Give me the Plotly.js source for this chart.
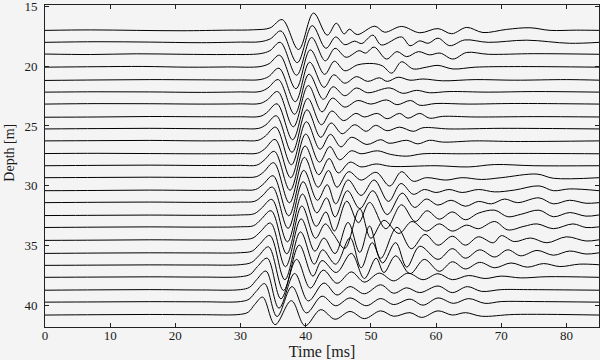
<!DOCTYPE html>
<html><head><meta charset="utf-8">
<script src="https://cdn.plot.ly/plotly-3.0.1.min.js"></script>
<style>html,body{margin:0;padding:0;background:#f4f4f4}#chart{width:600px;height:360px}</style>
</head><body><div id="chart"></div>
<script>
// depth of each trace's zero line (m)
const depths = [17.0,18.0,19.0,20.08,21.17,22.17,23.17,24.25,25.25,26.25,27.33,28.33,29.33,30.42,31.42,32.5,33.5,34.58,35.67,36.67,37.67,38.75,39.75,40.83];
const xTicks = [0,10,20,30,40,50,60,70,80];
const yTicks = [15,20,25,30,35,40];

// each trace: [time ms, amplitude m (positive = up)]
const tr01 = [[0,0.0],[7,0.04],[14,0.0],[21,-0.03],[28,0.02],[32,0.05],[34.5,0.2],[36.4,0.9],[38.9,-1.6],[41.2,1.45],[43.3,-0.4],[44.7,0.6],[45.9,-0.3],[46.7,0.1],[47.9,-0.35],[50.6,0.35],[52.1,-0.15],[54.7,0.33],[57.5,-0.2],[60.3,0.15],[62.4,-0.28],[64.7,0.25],[67.2,-0.18],[70.8,0.08],[74.4,0.22],[77.5,0.0],[81.5,0.02],[85,0.0]];
const tr02 = [[0,0.0],[8,0.05],[16,0.02],[24,-0.03],[30,0.02],[33,0.05],[34.6,0.3],[36.2,0.95],[38.7,-1.7],[41.0,1.4],[43.1,-0.5],[44.6,0.45],[46.0,-0.2],[47.5,0.1],[48.6,-0.1],[50.3,0.6],[51.6,-0.22],[54.7,0.45],[56.0,-0.28],[57.5,0.12],[58.8,-0.08],[60.3,0.35],[62.1,-0.28],[64.4,0.2],[68,0.0],[73.9,0.18],[80.5,-0.08],[85,0.0]];
const tr03 = [[0,0.02],[7,-0.02],[14,0.04],[21,0.0],[28,-0.02],[33,0.05],[34.5,0.3],[36.1,1.0],[38.6,-1.75],[40.9,1.4],[43.0,-0.55],[44.5,0.5],[46.2,-0.25],[48.2,0.3],[49.2,0.1],[50.5,0.6],[52.4,-0.4],[54.0,0.22],[55.5,-0.2],[57.3,0.22],[59.0,-0.05],[60.6,0.1],[62.6,-0.4],[64.7,0.15],[68,0.0],[75,0.05],[85,0.0]];
const tr04 = [[0,0.0],[8,0.04],[15,0.06],[22,0.0],[28,0.02],[33,0.05],[34.4,0.3],[36.0,1.0],[38.5,-1.8],[40.7,1.45],[42.9,-0.6],[44.4,0.5],[46.0,-0.3],[48.0,0.2],[50.4,0.3],[51.8,0.1],[53.2,-0.5],[54.7,0.45],[56.5,-0.15],[58.5,0.0],[60.3,0.15],[62.6,-0.15],[66,0.0],[72,0.05],[85,0.0]];
const tr05 = [[0,-0.02],[8,0.02],[16,0.05],[24,0.03],[30,0.02],[33,0.05],[34.3,0.3],[35.9,1.0],[38.4,-1.8],[40.6,1.5],[42.8,-0.6],[44.3,0.45],[46.0,-0.25],[47.8,0.3],[49.5,-0.1],[51.3,0.2],[52.5,-0.1],[54.2,0.25],[56,0.0],[58,0.1],[61,-0.05],[66,0.05],[72,0.0],[80,0.05],[85,0.0]];
const tr06 = [[0,0.0],[8,0.03],[16,0.02],[24,-0.02],[30,0.02],[33,0.05],[34.2,0.35],[35.8,1.05],[38.3,-1.85],[40.5,1.5],[42.7,-0.6],[44.2,0.45],[46.0,-0.3],[47.8,0.35],[49.5,-0.05],[52.9,0.35],[54.9,-0.1],[57.0,0.15],[59,-0.05],[62,0.05],[68,0.0],[75,0.05],[85,0.0]];
const tr07 = [[0,0.0],[8,0.04],[16,0.03],[24,0.0],[30,0.02],[33,0.05],[34.1,0.35],[35.7,1.05],[38.1,-1.9],[40.4,1.55],[42.5,-0.65],[44.1,0.5],[46.0,-0.25],[48.0,0.3],[50,0.0],[52.4,0.35],[54.0,-0.05],[56.1,0.3],[57.5,-0.1],[60,0.05],[65,0.0],[72,0.05],[85,0.0]];
const tr08 = [[0,-0.02],[8,0.0],[16,0.04],[24,0.02],[30,0.02],[33,0.05],[34.0,0.35],[35.6,1.1],[38.0,-1.9],[40.3,1.55],[42.4,-0.65],[44.0,0.5],[45.8,-0.3],[47.7,0.3],[49.0,0.0],[51.0,0.3],[52.5,-0.15],[54.4,0.3],[55.7,-0.1],[57.5,0.3],[59.0,-0.1],[61,0.05],[66,0.0],[75,0.03],[85,0.0]];
const tr09 = [[0,0.0],[8,0.03],[16,0.05],[24,0.02],[30,0.02],[32.8,0.05],[33.9,0.35],[35.5,1.1],[37.9,-1.95],[40.2,1.6],[42.3,-0.7],[43.9,0.5],[45.6,-0.4],[47.5,0.35],[49.3,-0.2],[50.7,0.3],[52.5,-0.15],[54.4,0.15],[56.5,-0.2],[58.0,0.1],[62,0.0],[70,0.05],[85,0.0]];
const tr10 = [[0,0.0],[8,0.02],[16,0.04],[24,0.0],[30,0.02],[32.7,0.05],[33.8,0.4],[35.4,1.15],[37.8,-2.0],[40.1,1.6],[42.2,-0.7],[43.8,0.55],[45.4,-0.5],[47.0,0.3],[49.4,-0.3],[51.5,0.1],[52.8,-0.2],[55.5,0.05],[57.2,-0.25],[59,0.05],[61,-0.1],[66,0.0],[72,-0.05],[85,0.0]];
const tr11 = [[0,0.02],[8,0.04],[16,0.02],[24,0.0],[30,0.02],[32.6,0.05],[33.7,0.4],[35.3,1.2],[37.7,-2.0],[40.0,1.65],[42.1,-0.7],[43.7,0.6],[45.2,-0.5],[47.0,0.25],[48.5,0.0],[51.0,0.25],[53,-0.05],[55.5,-0.2],[58,0.0],[64,0.0],[72,0.03],[85,0.0]];
const tr12 = [[0,0.0],[8,0.03],[16,0.05],[24,0.02],[30,0.03],[32.5,0.05],[33.6,0.45],[35.2,1.2],[37.6,-2.05],[39.9,1.65],[42.0,-0.75],[43.6,0.6],[45.0,-0.6],[46.8,0.3],[48.5,-0.1],[50.8,0.15],[53,-0.05],[60,0.0],[65,-0.1],[69,0.1],[75,0.0],[85,0.0]];
const tr13 = [[0,0.0],[8,0.02],[16,0.04],[24,0.02],[30,0.03],[32.4,0.08],[33.5,0.45],[35.1,1.25],[37.5,-2.1],[39.8,1.7],[41.9,-0.8],[43.5,0.6],[44.8,-0.8],[46.6,0.5],[48.5,-0.2],[50.8,0.45],[52.9,-0.7],[54.7,0.5],[56.5,-0.3],[58.5,0.0],[61.5,-0.2],[64,0.0],[67,-0.15],[70,0.0],[75.5,0.3],[78,-0.05],[85,0.0]];
const tr14 = [[0,0.0],[8,0.02],[16,0.05],[24,0.02],[30,0.05],[32.3,0.1],[33.4,0.5],[35.0,1.25],[37.4,-2.1],[39.7,1.7],[41.8,-0.8],[43.3,0.5],[44.6,-1.1],[46.5,0.9],[48.5,-0.4],[50.5,0.9],[52.7,-0.9],[54.6,0.6],[56.5,-0.3],[58.2,0.1],[60,-0.15],[62,0.1],[64,-0.15],[66.5,0.1],[69,-0.1],[72,0.05],[75.8,0.4],[78,0.0],[80.5,0.15],[85,0.0]];
const tr15 = [[0,0.0],[8,0.03],[16,0.05],[24,0.02],[30,0.05],[32.2,0.12],[33.3,0.55],[34.9,1.3],[37.3,-2.15],[39.6,1.75],[41.7,-0.85],[43.2,0.4],[44.5,-1.2],[46.4,1.0],[48.3,-0.5],[50.3,1.0],[52.5,-1.0],[54.8,0.8],[56.7,-0.4],[58.5,0.3],[60.3,-0.2],[62.3,0.2],[64.5,-0.3],[66.5,0.1],[68.5,-0.1],[70.5,0.3],[72.5,0.0],[75.8,0.4],[78,-0.1],[80.5,0.2],[83,-0.05],[85,0.0]];
const tr16 = [[0,0.0],[8,0.02],[16,0.04],[24,0.02],[30,0.05],[32.1,0.15],[33.2,0.6],[34.8,1.35],[37.2,-2.2],[39.5,1.8],[41.6,-0.9],[43.1,0.3],[44.4,-1.3],[46.3,1.2],[48.1,-0.6],[49.8,1.1],[52.3,-1.1],[54.7,0.9],[56.8,-0.5],[58.6,0.4],[60.5,-0.3],[62.5,0.3],[64.5,-0.35],[66.5,0.2],[69,0.45],[71,-0.1],[73,0.1],[75.8,0.45],[78,-0.1],[80.5,0.25],[83,-0.05],[85,0.05]];
const tr17 = [[0,0.0],[8,0.03],[16,0.05],[24,0.03],[30,0.06],[32.0,0.15],[33.1,0.65],[34.7,1.4],[37.1,-2.2],[39.4,1.8],[41.5,-0.9],[43.0,0.3],[44.3,-0.6],[46.0,-1.75],[48.3,1.55],[50.0,-0.9],[52.0,0.6],[54.3,-0.5],[56.3,0.5],[58.5,-0.3],[60.5,0.3],[62.5,-0.3],[64.7,0.2],[66.5,-0.1],[69,0.5],[71,-0.2],[73.5,0.1],[75.5,0.3],[78,-0.1],[81,0.3],[83,0.0],[85,0.05]];
const tr18 = [[0,0.0],[8,0.02],[16,0.05],[24,0.03],[30,0.06],[31.9,0.2],[33.0,0.7],[34.6,1.45],[36.9,-2.2],[39.3,1.8],[41.4,-0.9],[42.8,0.2],[44.5,-1.1],[46.5,1.5],[48.3,-1.0],[49.8,1.2],[51.5,-1.5],[54.0,1.1],[56.2,-0.7],[58.3,0.5],[60.3,-0.4],[62.5,0.35],[64.5,-0.4],[66.5,0.3],[68.8,-0.2],[70,0.4],[72,-0.1],[74.5,0.2],[77,-0.2],[80,0.3],[83,-0.05],[85,0.05]];
const tr19 = [[0,0.0],[8,0.03],[16,0.05],[24,0.04],[30,0.06],[31.8,0.2],[32.9,0.75],[34.5,1.5],[36.8,-2.2],[39.2,1.8],[41.3,-0.9],[42.6,0.3],[44.6,-0.9],[46.8,1.3],[48.5,-1.2],[50.2,0.9],[51.8,-0.8],[53.8,0.9],[55.5,-1.15],[57.5,0.6],[60.3,-0.5],[62.5,0.4],[64.5,-0.4],[66.7,0.3],[69,-0.3],[71,0.3],[73,-0.2],[75.5,0.25],[78,-0.15],[80.5,0.2],[83,-0.05],[85,0.05]];
const tr20 = [[0,0.0],[8,0.02],[16,0.04],[24,0.03],[30,0.06],[31.7,0.25],[32.8,0.8],[34.3,1.55],[36.6,-2.1],[39.0,1.7],[41.1,-0.9],[42.5,0.4],[44.7,-0.6],[47.0,1.0],[49.0,-1.1],[50.8,0.6],[52.0,-0.6],[53.8,0.8],[56.0,-0.7],[58.2,0.5],[60.5,-0.5],[62.5,0.3],[64.5,-0.3],[66.7,0.25],[69,-0.2],[71.5,0.2],[74,-0.15],[76.5,0.15],[79,-0.1],[82,0.1],[85,0.05]];
const tr21 = [[0,0.0],[8,0.02],[16,0.04],[24,0.02],[30,0.05],[31.5,0.25],[32.6,0.9],[34.1,1.6],[36.2,-1.8],[38.6,1.5],[40.7,-0.9],[42.7,0.6],[44.8,-0.5],[47.0,0.45],[49.0,-0.4],[51.3,0.35],[53.5,-0.3],[55.7,0.35],[58,-0.2],[60.3,0.3],[62.5,-0.2],[65,0.15],[67.5,-0.1],[70,0.1],[73,-0.05],[77,0.05],[85,0.0]];
const tr22 = [[0,0.0],[8,0.03],[16,0.05],[24,0.02],[30,0.05],[31.4,0.25],[32.5,0.9],[33.9,1.6],[35.9,-1.5],[38.3,1.4],[40.4,-0.9],[42.8,0.6],[44.8,-0.4],[46.8,0.3],[49.0,-0.3],[51.5,0.45],[53.5,-0.25],[55.5,0.2],[57.5,-0.2],[60.3,0.35],[62.5,-0.2],[64.8,0.3],[67,-0.1],[70,0.05],[74,0.05],[85,0.0]];
const tr23 = [[0,0.0],[8,0.02],[16,0.04],[24,0.03],[30,0.05],[31.3,0.25],[32.4,0.9],[33.7,1.55],[35.6,-1.2],[37.9,1.3],[40.1,-0.9],[42.5,0.5],[44.6,-0.3],[46.8,0.35],[49.3,-0.3],[51.5,0.3],[53.5,-0.2],[56,0.25],[58,-0.25],[60.3,0.35],[62.7,-0.1],[65,0.3],[67.5,-0.1],[70,0.05],[75,0.05],[85,0.0]];
const tr24 = [[0,0.0],[8,0.03],[16,0.05],[24,0.03],[30,0.06],[31.2,0.25],[32.2,0.9],[33.4,1.5],[35.3,-0.8],[37.8,1.2],[39.9,-0.9],[42.3,0.45],[44.5,-0.35],[46.8,0.3],[49.0,-0.3],[51.5,0.35],[53.5,-0.1],[56,0.2],[57.8,-0.2],[60.3,0.35],[62.5,0.0],[64.5,0.2],[67,-0.1],[72,0.05],[85,0.0]];

const traces = [tr01,tr02,tr03,tr04,tr05,tr06,tr07,tr08,tr09,tr10,tr11,tr12,tr13,tr14,tr15,tr16,tr17,tr18,tr19,tr20,tr21,tr22,tr23,tr24];

const data = depths.map((d, i) => ({
  x: traces[i].map(p => p[0]),
  y: traces[i].map(p => d - p[1]),
  type: 'scatter', mode: 'lines',
  line: {color: '#000', width: 1, shape: 'spline', smoothing: 1},
  hoverinfo: 'skip', showlegend: false
}));

const axisCommon = {
  showline: true, mirror: 'ticks', linecolor: '#222', linewidth: 1,
  ticks: 'inside', ticklen: 4, tickcolor: '#222', tickwidth: 1,
  showgrid: false, zeroline: false, ticklabeloverflow: 'allow'
};

const layout = {
  width: 600, height: 360,
  margin: {l: 45, r: 1, t: 5, b: 33},
  paper_bgcolor: '#f4f4f4', plot_bgcolor: '#f4f4f4',
  font: {family: 'Liberation Serif, Times New Roman, serif', size: 13, color: '#1a1a1a'},
  showlegend: false,
  xaxis: Object.assign({}, axisCommon, {
    range: [0, 85], tickmode: 'array', tickvals: xTicks,
    ticklabelstandoff: -4,
    title: {text: 'Time [ms]', standoff: 3}
  }),
  yaxis: Object.assign({}, axisCommon, {
    range: [41.83, 14.875], tickmode: 'array', tickvals: yTicks,
    ticklabelstandoff: 4
  }),
  annotations: [{
    text: 'Depth [m]', xref: 'paper', yref: 'paper', x: -0.064, y: 0.54,
    xanchor: 'center', yanchor: 'middle', textangle: -90, showarrow: false,
    font: {size: 14}
  }]
};

Plotly.newPlot('chart', data, layout, {staticPlot: true, displayModeBar: false});
</script>
</body></html>
